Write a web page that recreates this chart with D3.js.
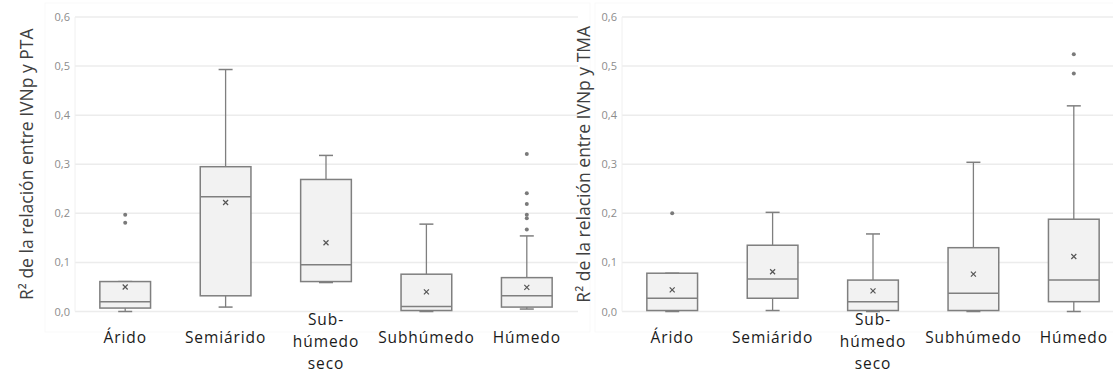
<!DOCTYPE html>
<html>
<head>
<meta charset="utf-8">
<script src="https://cdn.jsdelivr.net/npm/d3@7"></script>
<style>
  html, body { margin: 0; padding: 0; background: #fff; }
  svg { display: block; }
  text { font-family: "Open Sans", "Noto Sans", sans-serif; }
</style>
</head>
<body>
<svg id="chart" width="1113" height="376"></svg>
<script>
// Climate zones (x categories); "\n" marks a line break in the label
const categories = ["Árido", "Semiárido", "Sub-\nhúmedo\nseco", "Subhúmedo", "Húmedo"];
const yTicks = [0, 0.1, 0.2, 0.3, 0.4, 0.5, 0.6];

// R² between IVNp and PTA
const ptaWhiskerLow  = [0.000, 0.009, 0.059, 0.000, 0.005];
const ptaQ1          = [0.007, 0.032, 0.061, 0.002, 0.009];
const ptaMedian      = [0.020, 0.234, 0.095, 0.010, 0.032];
const ptaQ3          = [0.061, 0.295, 0.269, 0.076, 0.069];
const ptaWhiskerHigh = [0.061, 0.493, 0.318, 0.178, 0.154];
const ptaMean        = [0.050, 0.222, 0.140, 0.040, 0.049];
const ptaOutliers    = [[0.197, 0.181], [], [], [], [0.321, 0.241, 0.219, 0.197, 0.190, 0.167]];

// R² between IVNp and TMA
const tmaWhiskerLow  = [0.000, 0.002, 0.000, 0.000, 0.000];
const tmaQ1          = [0.002, 0.027, 0.002, 0.002, 0.020];
const tmaMedian      = [0.027, 0.066, 0.020, 0.037, 0.064];
const tmaQ3          = [0.078, 0.135, 0.064, 0.130, 0.188];
const tmaWhiskerHigh = [0.078, 0.202, 0.158, 0.304, 0.419];
const tmaMean        = [0.044, 0.081, 0.042, 0.076, 0.112];
const tmaOutliers    = [[0.200], [], [], [], [0.524, 0.485]];

const svg = d3.select("#chart");

function panel(opts) {
  const g = svg.append("g");

  // very faint chart-area frame
  g.append("rect")
    .attr("x", opts.frame[0]).attr("y", 3)
    .attr("width", opts.frame[1] - opts.frame[0]).attr("height", 329)
    .attr("fill", "none").attr("stroke", "#f9f9f9").attr("stroke-width", 1);

  const x = d3.scaleBand().domain(categories).range(opts.xRange).paddingInner(0).paddingOuter(0);
  const y = d3.scaleLinear().domain([0, 0.6]).range([311.5, 17]);

  // gridlines
  g.append("g").selectAll("line").data(yTicks).join("line")
    .attr("x1", opts.xRange[0]).attr("x2", opts.gridEnd)
    .attr("y1", d => y(d)).attr("y2", d => y(d))
    .attr("stroke", "#ececec").attr("stroke-width", 1.5);

  // left edge of plot area
  g.append("line")
    .attr("x1", opts.xRange[0]).attr("x2", opts.xRange[0])
    .attr("y1", y(0.6)).attr("y2", y(0))
    .attr("stroke", "#f0f0f0").attr("stroke-width", 1);

  // y axis tick labels
  const yAxis = d3.axisLeft(y).tickValues(yTicks)
    .tickFormat(d => d3.format(".1f")(d).replace(".", ","))
    .tickSize(0).tickPadding(5);
  const ya = g.append("g").attr("transform", `translate(${opts.xRange[0]},0)`).call(yAxis);
  ya.select(".domain").remove();
  ya.selectAll("text").attr("fill", "#8c8c8c").style("font-size", "11px")
    .style("font-family", "'Open Sans', sans-serif");

  // y axis title
  g.append("text")
    .attr("transform", `translate(${opts.titleX},${(y(0) + y(0.6)) / 2}) rotate(-90)`)
    .attr("text-anchor", "middle").attr("dy", "0.35em")
    .attr("fill", "#404040").style("font-size", "17.5px")
    .text(opts.title);

  // x category labels
  const lineH = 22;
  g.append("g").selectAll("text").data(categories).join("text")
    .attr("text-anchor", "middle")
    .attr("fill", "#1a1a1a").style("font-size", "15.5px").style("letter-spacing", "0.9px")
    .each(function(d) {
      const lines = d.split("\n");
      const cx = x(d) + x.bandwidth() / 2;
      const y0 = 343 - (lines.length === 3 ? 18 : 0);
      d3.select(this).selectAll("tspan").data(lines).join("tspan")
        .attr("x", cx).attr("y", (l, i) => y0 + i * lineH).text(l => l);
    });

  const bw = x.bandwidth() * 0.505;
  const capW = 14;
  const stroke = "#7f7f7f";

  const rows = categories.map((c, i) => ({
    c, lo: opts.lo[i], q1: opts.q1[i], med: opts.med[i], q3: opts.q3[i],
    hi: opts.hi[i], mean: opts.mean[i], out: opts.out[i]
  }));

  const box = g.append("g").selectAll("g").data(rows).join("g")
    .attr("transform", d => `translate(${x(d.c) + x.bandwidth() / 2},0)`);

  // whiskers
  box.append("line").attr("x1", 0).attr("x2", 0)
    .attr("y1", d => y(d.q3)).attr("y2", d => y(d.hi))
    .attr("stroke", stroke).attr("stroke-width", 1.3);
  box.append("line").attr("x1", 0).attr("x2", 0)
    .attr("y1", d => y(d.q1)).attr("y2", d => y(d.lo))
    .attr("stroke", stroke).attr("stroke-width", 1.3);
  box.append("line").attr("x1", -capW / 2).attr("x2", capW / 2)
    .attr("y1", d => y(d.hi)).attr("y2", d => y(d.hi))
    .attr("stroke", stroke).attr("stroke-width", 1.5);
  box.append("line").attr("x1", -capW / 2).attr("x2", capW / 2)
    .attr("y1", d => y(d.lo)).attr("y2", d => y(d.lo))
    .attr("stroke", stroke).attr("stroke-width", 1.5);

  // box
  box.append("rect")
    .attr("x", -bw / 2).attr("width", bw)
    .attr("y", d => y(d.q3)).attr("height", d => y(d.q1) - y(d.q3))
    .attr("fill", "#f2f2f2").attr("stroke", stroke).attr("stroke-width", 1.5);

  // median
  box.append("line").attr("x1", -bw / 2).attr("x2", bw / 2)
    .attr("y1", d => y(d.med)).attr("y2", d => y(d.med))
    .attr("stroke", stroke).attr("stroke-width", 1.5);

  // mean marker (×)
  box.append("path")
    .attr("d", d => {
      const m = y(d.mean), s = 2.5;
      return `M${-s},${m - s}L${s},${m + s}M${-s},${m + s}L${s},${m - s}`;
    })
    .attr("stroke", "#555").attr("stroke-width", 1.2).attr("fill", "none");

  // outliers
  box.selectAll("circle").data(d => d.out).join("circle")
    .attr("cx", 0).attr("cy", v => y(v)).attr("r", 2)
    .attr("fill", "#7a7a7a");
}

panel({
  xRange: [75, 577], gridEnd: 578, frame: [45, 590], titleX: 27,
  title: "R² de la relación entre IVNp y PTA",
  lo: ptaWhiskerLow, q1: ptaQ1, med: ptaMedian, q3: ptaQ3, hi: ptaWhiskerHigh,
  mean: ptaMean, out: ptaOutliers
});

panel({
  xRange: [622, 1124], gridEnd: 1124, frame: [595, 1120], titleX: 584,
  title: "R² de la relación entre IVNp y TMA",
  lo: tmaWhiskerLow, q1: tmaQ1, med: tmaMedian, q3: tmaQ3, hi: tmaWhiskerHigh,
  mean: tmaMean, out: tmaOutliers
});
</script>
</body>
</html>
